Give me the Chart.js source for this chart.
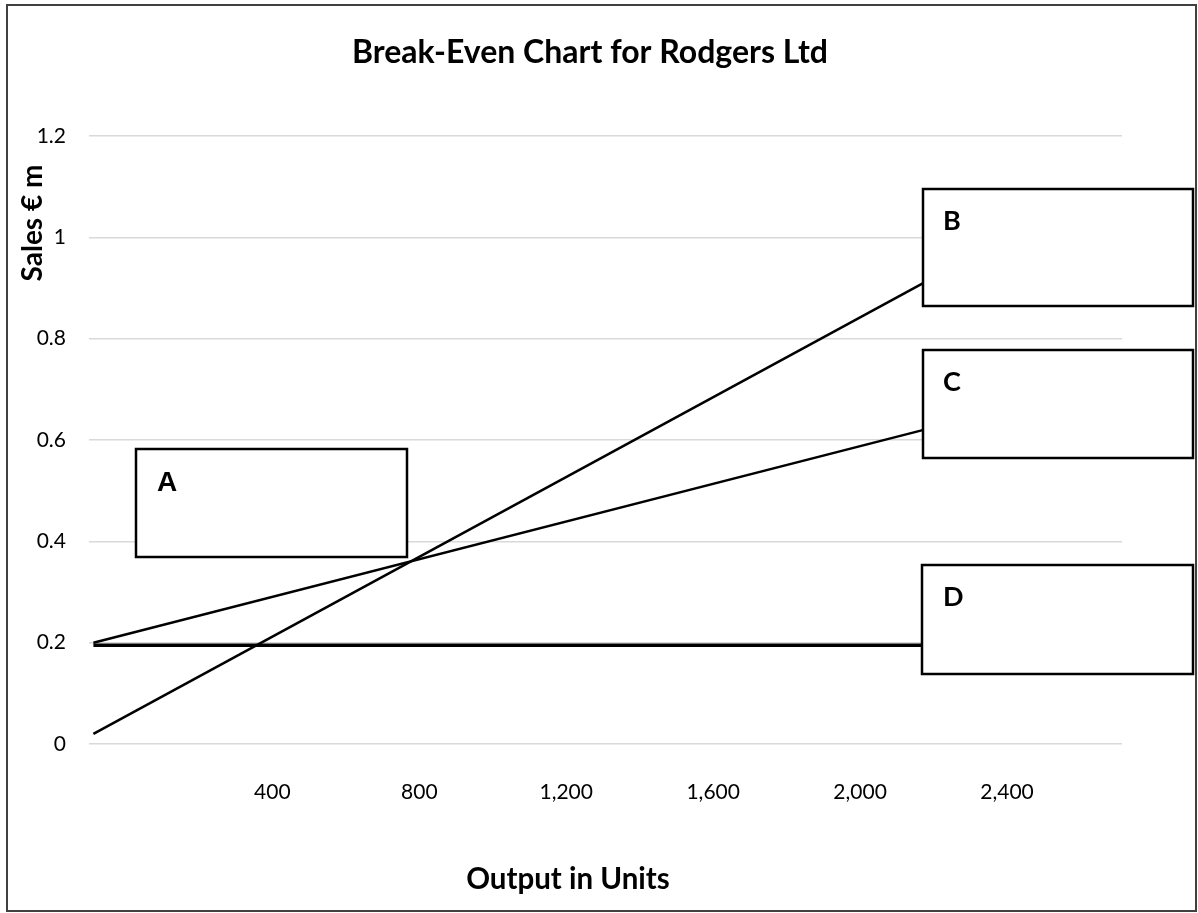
<!DOCTYPE html>
<html><head><meta charset="utf-8">
<script src="https://cdn.jsdelivr.net/npm/chart.js@4.4.0/dist/chart.umd.min.js"></script>
<style>html,body{margin:0;padding:0;background:#fff;overflow:hidden}canvas{display:block}</style>
</head><body>
<canvas id="c" width="1198" height="913"></canvas>
<script>
// ---- data ----
const chartTitle = 'Break-Even Chart for Rodgers Ltd';
const xAxisTitle = 'Output in Units';
const yAxisTitle = 'Sales € m';
const outputUnits = [0, 2260];
const salesRevenue = [0.02, 0.91];   // line B
const totalCosts = [0.2, 0.62];      // line C
const fixedCosts = [0.195, 0.195];   // line D
const xTickValues = [400, 800, 1200, 1600, 2000, 2400];
const yTickValues = [0, 0.2, 0.4, 0.6, 0.8, 1, 1.2];
const boxLabels = ['A', 'B', 'C', 'D'];

// ---- layout (pixels) ----
const BOX_LAYOUT = [
  {x:136, y:449, w:271, h:108, tx:157, ty:491, font:'bold 28px "Liberation Sans"'},
  {x:923, y:189, w:270, h:117, tx:943, ty:230, font:'bold 27px Lato'},
  {x:923, y:350, w:270, h:108, tx:943, ty:391, font:'bold 27px Lato'},
  {x:922, y:565, w:271, h:109, tx:943, ty:606, font:'bold 27px Lato'}
];
const FONT = 'Lato';

const toPts = (ys) => outputUnits.map((x, i) => ({x, y: ys[i]}));

const decor = {
  id: 'decor',
  beforeDraw(chart) {
    const c = chart.ctx;
    c.save();
    c.fillStyle = '#fff';
    c.fillRect(0, 0, chart.width, chart.height);
    c.restore();
  },
  afterDatasetsDraw(chart) {
    const c = chart.ctx;
    c.save();
    BOX_LAYOUT.forEach((b, i) => {
      c.fillStyle = '#fff';
      c.fillRect(b.x, b.y, b.w, b.h);
      c.strokeStyle = '#000';
      c.lineWidth = 2.5;
      c.strokeRect(b.x, b.y, b.w, b.h);
      c.fillStyle = '#000';
      c.font = b.font;
      c.textAlign = 'left';
      c.textBaseline = 'alphabetic';
      c.fillText(boxLabels[i], b.tx, b.ty);
    });
    c.restore();
  },
  afterDraw(chart) {
    const c = chart.ctx, a = chart.chartArea;
    c.save();
    c.fillStyle = '#000';
    c.textBaseline = 'alphabetic';
    c.textAlign = 'center';
    c.font = 'bold 29.5px ' + FONT;
    c.fillText(xAxisTitle, a.left + 479, a.bottom + 145);
    c.font = 'bold 28px ' + FONT;
    c.translate(a.left - 47, a.top + 87);
    c.rotate(-Math.PI / 2);
    c.fillText(yAxisTitle, 0, 0);
    c.restore();
    c.save();
    c.strokeStyle = '#404040';
    c.lineWidth = 2;
    c.strokeRect(7, 5, 1189, 906);
    c.restore();
  }
};

new Chart(document.getElementById('c'), {
  type: 'line',
  data: {
    datasets: [
      {label: 'B', data: toPts(salesRevenue), borderColor: '#000', borderWidth: 2.5},
      {label: 'C', data: toPts(totalCosts), borderColor: '#000', borderWidth: 2.5},
      {label: 'D', data: toPts(fixedCosts), borderColor: '#000', borderWidth: 3.5}
    ]
  },
  options: {
    responsive: false,
    animation: false,
    events: [],
    layout: {padding: {left: 0, right: 18, top: 0, bottom: 0}},
    elements: {point: {radius: 0}, line: {tension: 0, borderCapStyle: 'butt'}},
    plugins: {
      legend: {display: false},
      tooltip: {enabled: false},
      title: {
        display: true, text: chartTitle, color: '#000',
        font: {family: FONT, size: 32, weight: 'bold'},
        padding: {top: 33, bottom: 64.6}
      }
    },
    scales: {
      x: {
        type: 'linear', min: -12, max: 2800,
        border: {display: false},
        grid: {display: false, drawTicks: false},
        afterBuildTicks: (s) => { s.ticks = xTickValues.map(v => ({value: v})); },
        afterFit: (s) => { s.height = 169; },
        ticks: {
          color: '#000', font: {family: FONT, size: 21}, padding: 36, labelOffset: 32,
          maxRotation: 0, autoSkip: false,
          callback: (v) => Number(v).toLocaleString('en-US')
        }
      },
      y: {
        type: 'linear', min: 0, max: 1.2,
        border: {display: false},
        grid: {color: '#d9d9d9', lineWidth: 1.5, drawTicks: false},
        afterBuildTicks: (s) => { s.ticks = yTickValues.map(v => ({value: v})); },
        afterFit: (s) => { s.width = 89; },
        ticks: {
          color: '#000', font: {family: FONT, size: 21}, padding: 23,
          callback: (v) => String(+Number(v).toFixed(1))
        }
      },
      yRight: {
        type: 'linear', position: 'right', display: true,
        border: {display: false},
        grid: {display: false, drawTicks: false},
        ticks: {display: false},
        afterFit: (s) => { s.width = 58; }
      }
    }
  },
  plugins: [decor]
});
</script>
</body></html>
